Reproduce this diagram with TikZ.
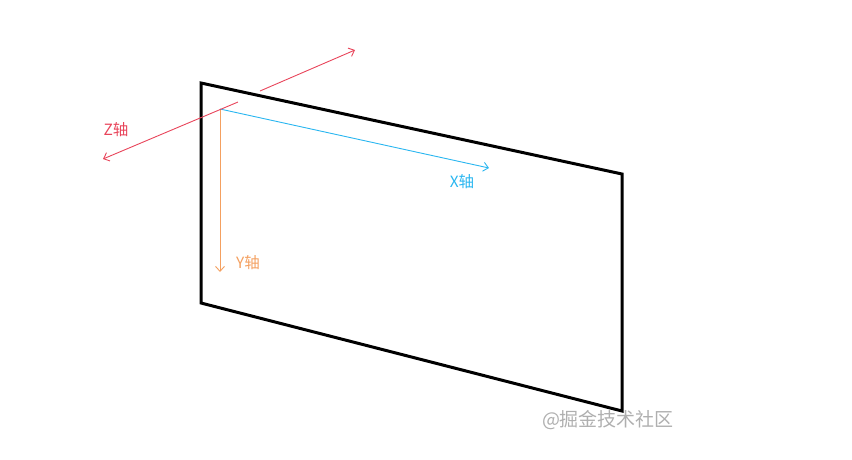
\documentclass[tikz,border=0pt]{standalone}
\usepackage{fontspec}
\setmainfont{Noto Sans CJK SC}
\usetikzlibrary{arrows.meta}
\definecolor{zred}{RGB}{232,68,90}
\definecolor{xblue}{RGB}{41,182,240}
\definecolor{yorange}{RGB}{244,160,96}
\definecolor{markgray}{RGB}{175,175,175}
\begin{document}
\begin{tikzpicture}[x=1pt,y=-1pt,font=\fontsize{15.5}{18}\selectfont,
  >={Straight Barb[length=5pt,width=9pt]},
  axis/.style={line width=0.9pt,->},
  plane/.style={line width=3pt,line join=miter}]
  \useasboundingbox (0,0) rectangle (852,459);
  % --- Parameters ---
  \def\xl{201}      % left edge of the screen
  \def\xr{622}      % right edge of the screen
  % --- Screen (parallelogram) ---
  \coordinate (tl) at (\xl,83);
  \coordinate (tr) at (\xr,174);
  \coordinate (br) at (\xr,411);
  \coordinate (bl) at (\xl,303);
  \draw[plane] (tl) -- (tr) -- (br) -- (bl) -- cycle;
  % --- Origin and axis ends ---
  \coordinate (o) at (220,109);
  \coordinate (xend) at (489,168);
  \coordinate (yend) at (220,272);
  % z axis is cut where it passes behind the top edge
  \coordinate (zfront) at (238,102);
  \coordinate (zback) at (260,91);
  \coordinate (zneg) at (103,159);
  \coordinate (zpos) at (355,50);
  \draw[axis,xblue] (o) -- (xend);
  \draw[axis,yorange] (o) -- (yend);
  \draw[axis,zred] (zfront) -- (zneg);
  \draw[axis,zred] (zback) -- (zpos);
  % --- Labels ---
  \node[text=xblue] (xlab) at (462,182) {X轴};
  \node[text=yorange] (ylab) at (248,263) {Y轴};
  \node[text=zred] (zlab) at (116,130) {Z轴};
  \node[text=markgray,font=\fontsize{19}{22}\selectfont] (mark) at (608,420) {@掘金技术社区};
\end{tikzpicture}
\end{document}
